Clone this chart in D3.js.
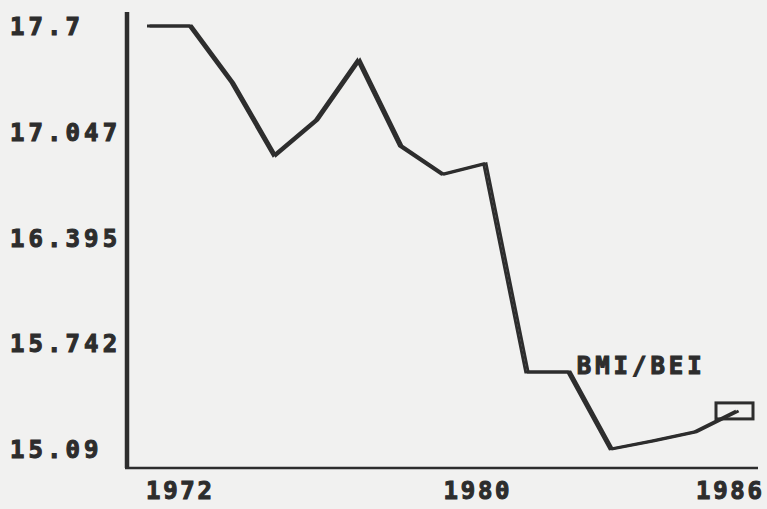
<!DOCTYPE html>
<html>
<head>
<meta charset="utf-8">
<script src="https://cdn.jsdelivr.net/npm/d3@7"></script>
<style>
  html, body { margin: 0; padding: 0; background: #f1f1f0; }
  svg { display: block; }
</style>
</head>
<body>
<svg id="chart" width="767" height="509"></svg>
<script>
const years = [1972, 1973, 1974, 1975, 1976, 1977, 1978, 1979, 1980, 1981, 1982, 1983, 1984, 1985, 1986];
const values = [17.7, 17.7, 17.35, 16.90, 17.12, 17.49, 16.96, 16.785, 16.85, 15.565, 15.565, 15.09, 15.14, 15.195, 15.325];
const yTickValues = [17.7, 17.047, 16.395, 15.742, 15.09];
const yTickLabels = ["17.7", "17.047", "16.395", "15.742", "15.09"];
const xTickValues = [1972, 1980, 1986];
const seriesLabel = "BMI/BEI";

const ink = "#2d2d2d";
const fontFamily = "'DejaVu Sans Mono', 'Liberation Mono', monospace";

const width = 767, height = 509;
const margin = { top: 12, right: 7, bottom: 41, left: 127 };
const innerWidth = width - margin.left - margin.right;
const innerHeight = height - margin.top - margin.bottom;

const svg = d3.select("#chart");

svg.append("rect")
    .attr("width", width)
    .attr("height", height)
    .attr("fill", "#f1f1f0");

// scales (page coordinates)
const x = d3.scaleLinear()
    .domain([years[0], years[years.length - 1]])
    .range([margin.left + 20, margin.left + 609]);

const y = d3.scaleLinear()
    .domain([d3.min(values), d3.max(values)])
    .range([margin.top + 437, margin.top + 14]);

// axis lines
svg.append("line")
    .attr("x1", margin.left).attr("x2", margin.left)
    .attr("y1", margin.top).attr("y2", margin.top + innerHeight)
    .attr("stroke", ink)
    .attr("stroke-width", 4.5);

svg.append("line")
    .attr("x1", margin.left - 2).attr("x2", margin.left + innerWidth - 2)
    .attr("y1", margin.top + innerHeight).attr("y2", margin.top + innerHeight)
    .attr("stroke", ink)
    .attr("stroke-width", 2.5);

// text helper: bold monospace, thickened with a stroke like the printer font
function styleText(sel, size) {
    sel.attr("fill", ink)
        .attr("stroke", ink)
        .attr("stroke-width", 1.1)
        .attr("font-family", fontFamily)
        .attr("font-weight", "bold")
        .attr("font-size", size);
}

// Y tick labels (left aligned near page edge)
svg.selectAll(".ytick")
    .data(yTickValues)
    .enter()
    .append("text")
    .attr("class", "ytick")
    .attr("x", 10)
    .attr("y", d => y(d) + 9)
    .attr("textLength", (d, i) => yTickLabels[i].length * 18.6 - 4.5)
    .attr("lengthAdjust", "spacing")
    .call(styleText, 24)
    .text((d, i) => yTickLabels[i]);

// X tick labels
svg.selectAll(".xtick")
    .data(xTickValues)
    .enter()
    .append("text")
    .attr("class", "xtick")
    .attr("x", (d, i) => i === 0 ? x(d) - 1 : x(d) - 7)
    .attr("y", margin.top + innerHeight + 31)
    .attr("text-anchor", (d, i) => i === 0 ? "start" : "middle")
    .attr("textLength", 66)
    .attr("lengthAdjust", "spacing")
    .call(styleText, 24)
    .text(d => d);

// Line (drawn twice, shifted, to mimic the wide dot-matrix pen)
const line = d3.line()
    .x((d, i) => x(years[i]))
    .y(d => y(d));

[0, 2.6].forEach(dx => {
    svg.append("path")
        .datum(values)
        .attr("transform", `translate(${dx},0)`)
        .attr("fill", "none")
        .attr("stroke", ink)
        .attr("stroke-width", 2.8)
        .attr("stroke-linejoin", "miter")
        .attr("d", line);
});

// end marker box
const last = values.length - 1;
svg.append("rect")
    .attr("x", x(years[last]) - 20)
    .attr("y", y(values[last]) - 8)
    .attr("width", 37)
    .attr("height", 16)
    .attr("fill", "none")
    .attr("stroke", ink)
    .attr("stroke-width", 3);

// series label
svg.append("text")
    .attr("x", x(1982) + 9)
    .attr("y", y(values[10]) + 2)
    .attr("textLength", 125)
    .attr("lengthAdjust", "spacing")
    .call(styleText, 24)
    .text(seriesLabel);
</script>
</body>
</html>
